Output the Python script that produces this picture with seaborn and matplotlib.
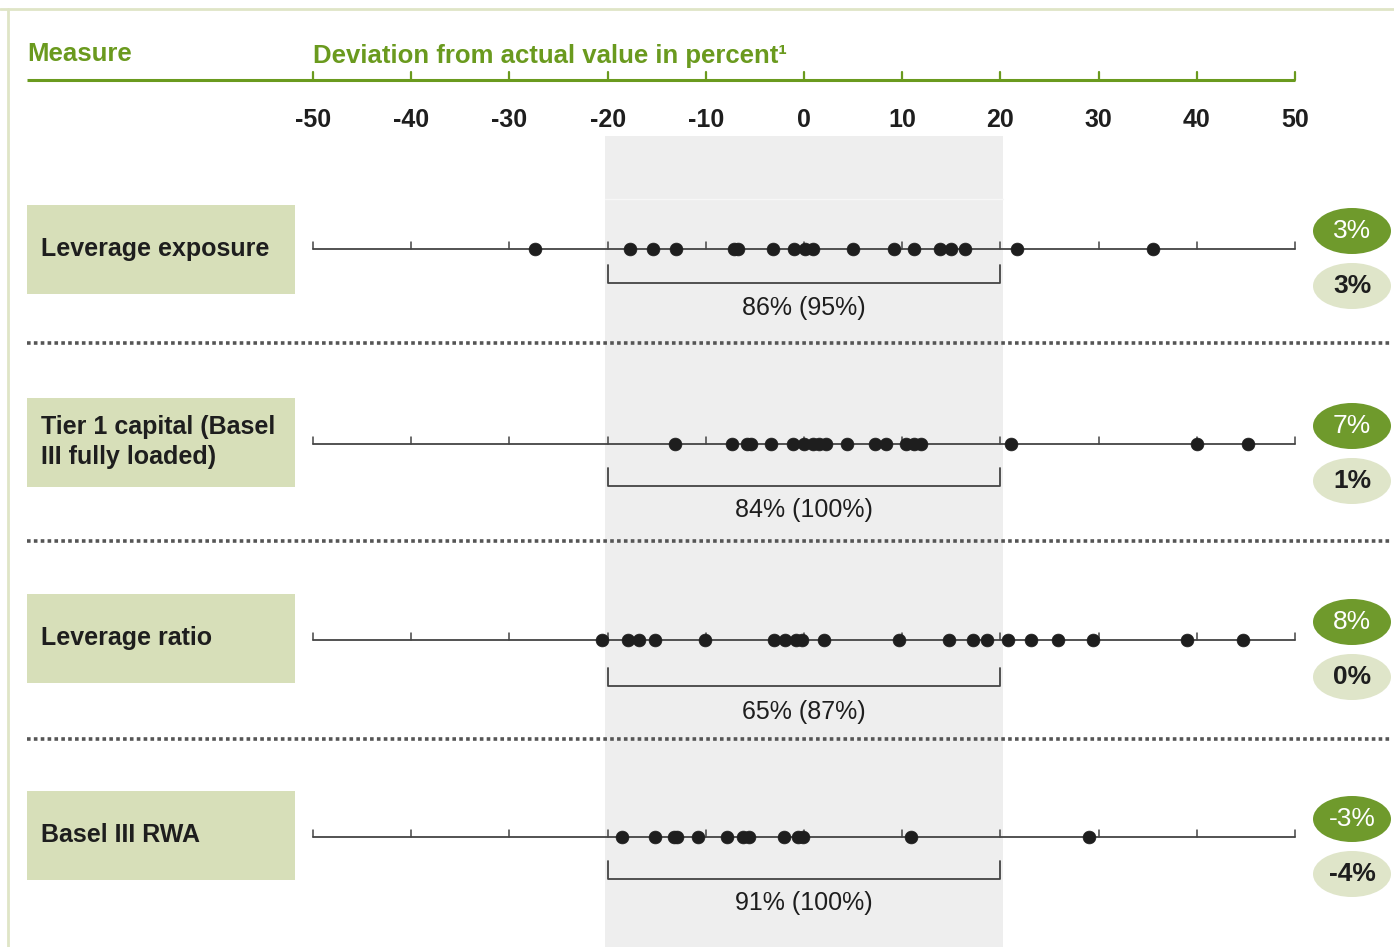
import numpy as np
import pandas as pd
import matplotlib
matplotlib.use("Agg")
import matplotlib.pyplot as plt
from matplotlib.patches import Rectangle, Ellipse
import seaborn as sns

# ---- data -------------------------------------------------------------
measures = ["Leverage exposure", "Tier 1 capital (Basel\nIII fully loaded)",
            "Leverage ratio", "Basel III RWA"]

dev_leverage_exposure = [-27.4, -17.7, -15.4, -13.0, -7.1, -6.7, -3.2, -1.0, 0.1, 0.9,
                         5.0, 9.2, 11.2, 13.8, 15.0, 16.4, 21.7, 35.5]
dev_tier1_capital = [-13.1, -7.3, -5.8, -5.4, -3.4, -1.1, 0.0, 0.9, 1.5, 2.2, 4.4,
                     7.2, 8.4, 10.4, 11.2, 11.9, 21.1, 40.0, 45.2]
dev_leverage_ratio = [-20.6, -17.9, -16.8, -15.2, -10.1, -3.1, -1.9, -0.8, -0.2, 2.0,
                      9.7, 14.8, 17.2, 18.6, 20.8, 23.1, 25.9, 29.4, 39.0, 44.7]
dev_basel_rwa = [-18.5, -15.2, -13.2, -12.9, -10.8, -7.8, -6.2, -5.6, -2.0, -0.6,
                 -0.1, 10.9, 29.0]

share_within_band = ["86% (95%)", "84% (100%)", "65% (87%)", "91% (100%)"]
badge_dark = ["3%", "7%", "8%", "-3%"]
badge_light = ["3%", "1%", "0%", "-4%"]

tick_values = list(range(-50, 51, 10))
band = (-20, 20)

# ---- styling ----------------------------------------------------------
sns.set_theme(style="white")
plt.rcParams["font.family"] = ["Liberation Sans", "DejaVu Sans"]

GREEN = "#6a9a1e"
DARK_BADGE = "#6f9a2c"
LIGHT_BADGE = "#dfe5c9"
BOX = "#d7dfb9"
SHADE = "#eeeeee"
INK = "#1e1e1e"

W, H = 1394, 947
fig = plt.figure(figsize=(W / 100, H / 100), dpi=100)
ax = fig.add_axes([0, 0, 1, 1])

# x: deviation in percent, -50 .. 50 spanning pixel columns 313 .. 1295
PX_PER_UNIT = (1295 - 313) / 100.0
def px(xpix):
    return -50 + (xpix - 313) / PX_PER_UNIT

ax.set_xlim(px(0), px(W))
ax.set_ylim(H, 0)
ax.axis("off")

# vertical layout (pixel rows)
row_y = [249, 444, 640, 837]
box_y = [249, 442, 638, 835]
bracket_y = [283, 486, 686, 879]
share_y = [308, 510, 712, 903]
sep_y = [343, 541, 739]

# frame
ax.plot([px(0), px(W)], [9, 9], color="#dfe5c6", lw=2, zorder=1)
ax.plot([px(8), px(8)], [9, H], color="#dfe5c6", lw=2, zorder=1)

# shaded +-20% band
pad = 0.3
ax.add_patch(Rectangle((band[0] - pad, 136), band[1] - band[0] + 2 * pad, H - 136,
                       facecolor=SHADE, edgecolor="none", zorder=0))
ax.plot([band[0] - pad, band[1] + pad], [199, 199], color="#f7f7f7", lw=1.0, zorder=0.5)

# header
ax.text(px(27), 54, "Measure", color=GREEN, fontsize=18.5, fontweight="bold",
        va="center", ha="left")
ax.text(-50, 56, "Deviation from actual value in percent\u00b9", color=GREEN,
        fontsize=18.5, fontweight="bold", va="center", ha="left")
ax.plot([px(27), 50], [80, 80], color=GREEN, lw=2.2, solid_capstyle="butt", zorder=2)
for t in tick_values:
    ax.plot([t, t], [80, 72], color=GREEN, lw=1.6, zorder=2)
    ax.text(t, 120, f"{t}", fontsize=18, fontweight="bold", color=INK,
            ha="center", va="center")

# rows
frames = []
for name, vals, y in zip(measures,
                         [dev_leverage_exposure, dev_tier1_capital,
                          dev_leverage_ratio, dev_basel_rwa], row_y):
    frames.append(pd.DataFrame({"measure": name, "deviation": vals, "y": y}))
df = pd.concat(frames, ignore_index=True)

for i, (name, y) in enumerate(zip(measures, row_y)):
    # label box
    by = box_y[i]
    ax.add_patch(Rectangle((px(27), by - 44), (295 - 27) / PX_PER_UNIT, 89,
                           facecolor=BOX, edgecolor="none", zorder=1))
    ax.text(px(41), by, name, fontsize=18, fontweight="bold", color=INK,
            ha="left", va="center", linespacing=1.3, zorder=3)
    # row axis
    ax.plot([-50, 50], [y, y], color="#444444", lw=1.3, zorder=2)
    for t in tick_values:
        ax.plot([t, t], [y, y - 7], color="#444444", lw=1.1, zorder=2)
    # +-20% bracket
    yb = bracket_y[i]
    ax.plot([band[0], band[0], band[1], band[1]], [yb - 18, yb, yb, yb - 18],
            color="#444444", lw=1.3, zorder=2)
    ax.text(0, share_y[i], share_within_band[i], fontsize=18, color=INK,
            ha="center", va="center")
    # badges
    cx = px(1352)
    ax.add_patch(Ellipse((cx, y - 18), 78 / PX_PER_UNIT, 46,
                         facecolor=DARK_BADGE, edgecolor="none", zorder=2))
    ax.text(cx, y - 18, badge_dark[i], fontsize=19, color="white",
            ha="center", va="center", zorder=3)
    ax.add_patch(Ellipse((cx, y + 37), 78 / PX_PER_UNIT, 46,
                         facecolor=LIGHT_BADGE, edgecolor="none", zorder=2))
    ax.text(cx, y + 37, badge_light[i], fontsize=19, fontweight="bold", color=INK,
            ha="center", va="center", zorder=3)

# dotted separators
for y in sep_y:
    ax.plot([px(27), px(1390)], [y, y], color="#555555", lw=2.6,
            linestyle=(0, (1.0, 0.9)), dash_capstyle="butt", zorder=2)

# observations
sns.scatterplot(data=df, x="deviation", y="y", ax=ax, color=INK, s=85,
                edgecolor=INK, linewidth=0.5, legend=False, zorder=4)
ax.set_xlim(px(0), px(W))
ax.set_ylim(H, 0)
ax.axis("off")

fig.savefig("out.png", dpi=100)
